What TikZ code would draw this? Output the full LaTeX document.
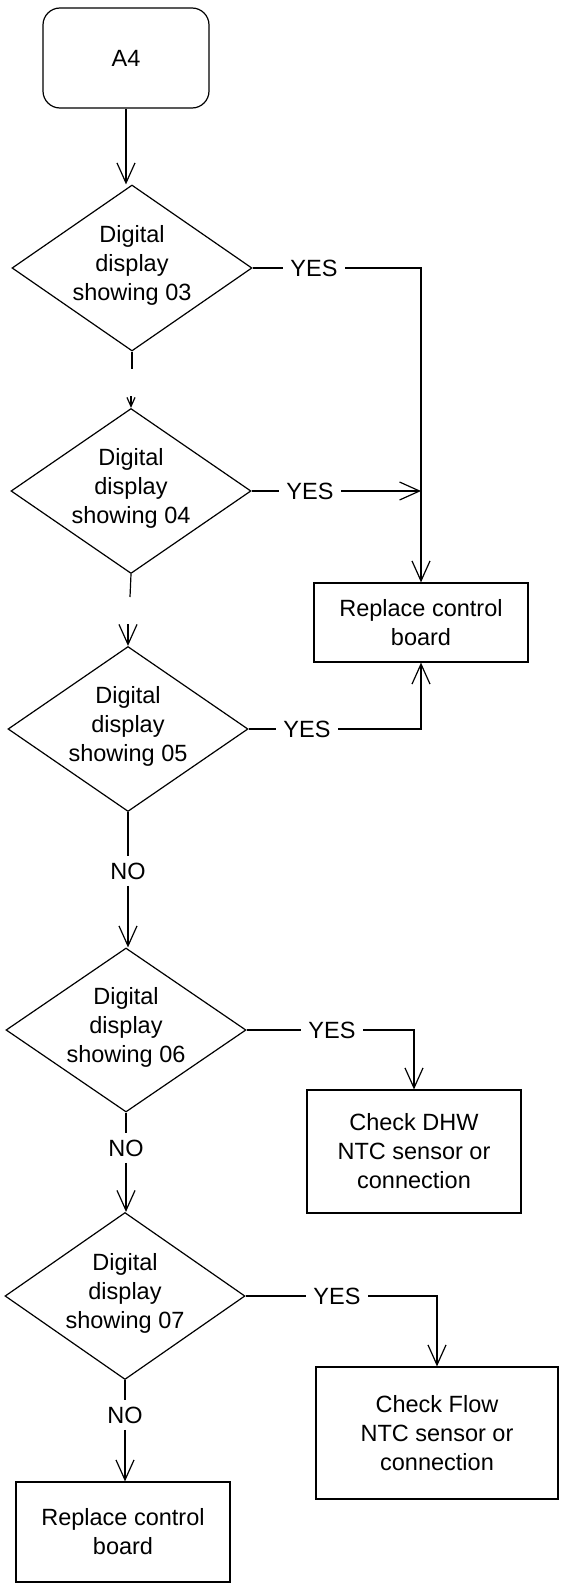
\documentclass[tikz,border=0pt]{standalone}
\usepackage{fontspec}
\setmainfont{Liberation Sans}
\usetikzlibrary{shapes.geometric,arrows.meta}
\begin{document}
\begin{tikzpicture}[x=1pt,y=-1pt,line width=1.2pt,
  every node/.style={font=\fontsize{23.5}{29}\selectfont},
  dec/.style={diamond,draw,minimum width=240pt,minimum height=166pt,inner sep=0pt},
  txt/.style={align=center,inner sep=0pt},
  box/.style={draw,rectangle,inner sep=0pt,align=center},
  arr/.style={-{Straight Barb[length=20pt,width=18pt]}},
  smallarr/.style={-{Straight Barb[length=9pt,width=8pt]}},
  lab/.style={inner xsep=7pt,inner ysep=6pt}]
\useasboundingbox (0,0) rectangle (560,1584);

% start
\node[draw,rounded corners=17pt,minimum width=166pt,minimum height=100pt] (a4) at (126,58) {A4};

% decisions
\node[dec] (d1) at (132,268) {};
\node[txt] (d1t) at ([yshift=3pt]d1.center) {Digital\\display\\showing 03};
\node[dec,minimum height=165pt] (d2) at (131,491) {};
\node[txt] (d2t) at ([yshift=3pt]d2.center) {Digital\\display\\showing 04};
\node[dec,minimum height=165pt] (d3) at (128,729) {};
\node[txt] (d3t) at ([yshift=3pt]d3.center) {Digital\\display\\showing 05};
\node[dec,minimum height=164pt] (d4) at (126,1030) {};
\node[txt] (d4t) at ([yshift=3pt]d4.center) {Digital\\display\\showing 06};
\node[dec,minimum height=167pt] (d5) at (125,1296) {};
\node[txt] (d5t) at ([yshift=3pt]d5.center) {Digital\\display\\showing 07};

% actions
\node[box,minimum width=214pt,minimum height=79pt] (rcb1) at (421,622.5) {Replace control\\board};
\node[box,minimum width=214pt,minimum height=123pt] (dhw) at (414,1151.5) {Check DHW\\NTC sensor or\\connection};
\node[box,minimum width=242pt,minimum height=132pt] (flow) at (437,1433) {Check Flow\\NTC sensor or\\connection};
\node[box,minimum width=214pt,minimum height=100pt] (rcb2) at (123,1532) {Replace control\\board};

% labels
\node[lab] (y1) at (314,268) {YES};
\node[lab] (y2) at (310,491) {YES};
\node[lab] (y3) at (307,729) {YES};
\node[lab] (y4) at (332,1030) {YES};
\node[lab] (y5) at (337,1296) {YES};
\node[lab] (n3) at (128,871) {NO};
\node[lab] (n4) at (126,1148) {NO};
\node[lab] (n5) at (125,1415) {NO};

% connectors
\draw[arr] (a4.south) -- (a4.south |- d1.north);

\coordinate (b1) at (132,369);
\draw (d1.south) -- (b1);
\coordinate (b1e) at (131,396);
\draw[smallarr] (b1e) -- (b1e |- d2.north);

\coordinate (b2) at (130,597);
\draw (d2.south) -- (b2);
\coordinate (b2e) at (128,624);
\draw[arr] (b2e) -- (b2e |- d3.north);

\draw (d1.east) -- (y1.west);
\draw[arr] (y1.east) -| (rcb1.north);
\draw (d2.east) -- (y2.west);
\draw[arr] (y2.east) -- (y2.east -| rcb1.north);
\draw (d3.east) -- (y3.west);
\draw[arr] (y3.east) -| (rcb1.south);

\draw (d3.south) -- (n3.north);
\draw[arr] (n3.south) -- (n3.south |- d4.north);
\draw (d4.east) -- (y4.west);
\draw[arr] (y4.east) -| (dhw.north);

\draw (d4.south) -- (n4.north);
\draw[arr] (n4.south) -- (n4.south |- d5.north);
\draw (d5.east) -- (y5.west);
\draw[arr] (y5.east) -| (flow.north);

\draw (d5.south) -- (n5.north);
\draw[arr] (n5.south) -- (n5.south |- rcb2.north);
\end{tikzpicture}
\end{document}
